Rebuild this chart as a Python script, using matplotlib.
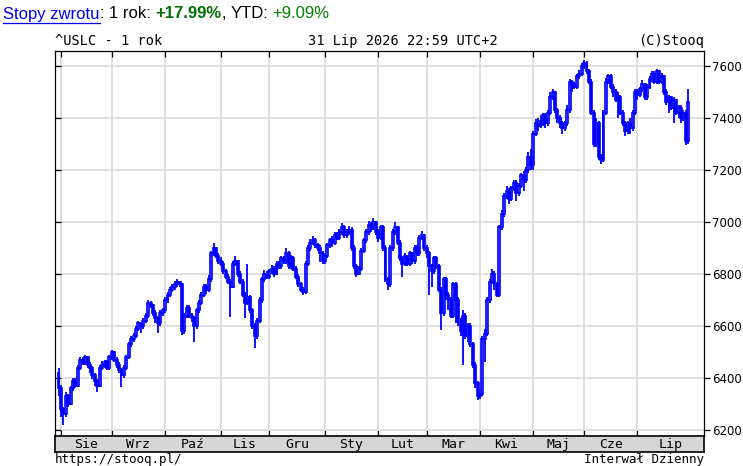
import numpy as np
import pandas as pd
import matplotlib
matplotlib.use('Agg')
import matplotlib.pyplot as plt
from matplotlib.lines import Line2D

W, H = 743, 466

# daily candles, grouped roughly by month
first_open = 6420
close_aug = [6360, 6280, 6260, 6330, 6300, 6360, 6390, 6370, 6440, 6470, 6460, 6480, 6450, 6440, 6410, 6390, 6370, 6440, 6450, 6460, 6440]
high_aug = [6440, 6375, 6290, 6345, 6340, 6370, 6400, 6400, 6450, 6480, 6480, 6490, 6485, 6460, 6445, 6420, 6395, 6450, 6465, 6470, 6470]
low_aug = [6330, 6250, 6220, 6250, 6290, 6295, 6350, 6360, 6365, 6430, 6450, 6450, 6440, 6420, 6395, 6370, 6345, 6365, 6430, 6440, 6430]

close_sep = [6480, 6500, 6470, 6450, 6430, 6410, 6440, 6480, 6530, 6550, 6560, 6590, 6610, 6600, 6620, 6640, 6690, 6680, 6650, 6630, 6610, 6650]
high_sep = [6490, 6508, 6505, 6480, 6460, 6440, 6450, 6490, 6540, 6560, 6575, 6600, 6620, 6615, 6630, 6650, 6700, 6695, 6685, 6660, 6640, 6660]
low_sep = [6430, 6470, 6460, 6440, 6420, 6365, 6400, 6430, 6475, 6520, 6540, 6555, 6580, 6573, 6590, 6610, 6630, 6670, 6640, 6610, 6573, 6600]

close_oct = [6660, 6700, 6720, 6740, 6750, 6760, 6770, 6760, 6580, 6640, 6670, 6640, 6630, 6600, 6660, 6690, 6720, 6750, 6740, 6780, 6880, 6900, 6870]
high_oct = [6670, 6710, 6730, 6750, 6760, 6775, 6780, 6775, 6765, 6650, 6680, 6680, 6650, 6640, 6670, 6700, 6730, 6760, 6760, 6795, 6890, 6920, 6905]
low_oct = [6640, 6650, 6690, 6710, 6730, 6740, 6750, 6750, 6565, 6570, 6630, 6630, 6615, 6540, 6590, 6650, 6680, 6710, 6725, 6730, 6770, 6870, 6860]

close_nov = [6850, 6840, 6810, 6790, 6770, 6750, 6840, 6850, 6800, 6770, 6720, 6690, 6710, 6660, 6600, 6560, 6620, 6700, 6780, 6800]
high_nov = [6880, 6865, 6850, 6820, 6800, 6780, 6850, 6870, 6855, 6810, 6780, 6730, 6840, 6720, 6670, 6610, 6630, 6710, 6790, 6815]
low_nov = [6840, 6830, 6800, 6780, 6760, 6635, 6745, 6830, 6790, 6760, 6710, 6630, 6680, 6650, 6590, 6515, 6550, 6610, 6690, 6770]

close_dec = [6790, 6810, 6820, 6800, 6840, 6830, 6860, 6850, 6880, 6830, 6860, 6820, 6790, 6760, 6740, 6730, 6840, 6900, 6920, 6930, 6910, 6900, 6880]
high_dec = [6810, 6820, 6835, 6830, 6850, 6850, 6870, 6870, 6900, 6890, 6875, 6870, 6830, 6800, 6770, 6750, 6850, 6910, 6935, 6945, 6940, 6920, 6910]
low_dec = [6780, 6780, 6800, 6790, 6795, 6820, 6820, 6840, 6840, 6820, 6820, 6810, 6780, 6750, 6730, 6720, 6725, 6830, 6890, 6910, 6900, 6890, 6845]

close_jan = [6850, 6870, 6910, 6930, 6920, 6950, 6940, 6960, 6980, 6950, 6960, 6970, 6900, 6830, 6800, 6820, 6890, 6930, 6960, 6990, 6980, 7000]
high_jan = [6890, 6880, 6920, 6940, 6945, 6960, 6960, 6975, 6995, 6990, 6975, 6985, 6980, 6910, 6840, 6830, 6900, 6940, 6975, 7005, 7000, 7015]
low_jan = [6840, 6840, 6860, 6900, 6905, 6910, 6930, 6930, 6950, 6940, 6940, 6950, 6890, 6820, 6790, 6795, 6810, 6880, 6920, 6950, 6960, 6970]

close_feb = [6960, 6940, 6980, 6900, 6780, 6760, 6900, 6960, 6980, 6920, 6860, 6840, 6870, 6840, 6880, 6850, 6900, 6880, 6940, 6950]
high_feb = [7005, 6975, 6990, 6990, 6910, 6790, 6910, 6975, 7000, 6985, 6930, 6870, 6880, 6875, 6890, 6885, 6910, 6910, 6950, 6965]
low_feb = [6950, 6925, 6930, 6890, 6770, 6740, 6750, 6890, 6950, 6910, 6850, 6790, 6830, 6830, 6830, 6840, 6840, 6870, 6870, 6930]

close_mar = [6900, 6880, 6830, 6810, 6860, 6830, 6740, 6650, 6780, 6720, 6700, 6640, 6760, 6700, 6620, 6580, 6640, 6560, 6600, 6530, 6450, 6380]
high_mar = [6955, 6910, 6890, 6840, 6870, 6870, 6840, 6750, 6790, 6790, 6730, 6710, 6770, 6770, 6710, 6630, 6660, 6650, 6610, 6610, 6540, 6460]
low_mar = [6890, 6860, 6720, 6750, 6800, 6820, 6730, 6585, 6640, 6700, 6660, 6630, 6630, 6610, 6600, 6560, 6450, 6550, 6540, 6520, 6440, 6360]

close_apr = [6330, 6340, 6550, 6570, 6700, 6770, 6800, 6760, 6720, 6980, 7030, 7100, 7120, 7090, 7130, 7150, 7110, 7140, 7180, 7160, 7200, 7250]
high_apr = [6390, 6350, 6560, 6590, 6710, 6780, 6820, 6810, 6770, 6990, 7045, 7110, 7140, 7130, 7140, 7160, 7160, 7150, 7190, 7195, 7210, 7270]
low_apr = [6315, 6320, 6330, 6460, 6560, 6690, 6760, 6740, 6710, 6710, 6970, 7020, 7090, 7070, 7080, 7120, 7080, 7100, 7130, 7120, 7150, 7190]

close_may = [7220, 7340, 7380, 7370, 7390, 7410, 7380, 7420, 7480, 7500, 7430, 7400, 7380, 7360, 7380, 7430, 7540, 7530, 7520, 7560, 7570]
high_may = [7280, 7350, 7395, 7400, 7410, 7420, 7420, 7430, 7500, 7510, 7505, 7440, 7410, 7390, 7390, 7450, 7550, 7545, 7540, 7570, 7585]
low_may = [7200, 7200, 7330, 7350, 7360, 7370, 7360, 7370, 7410, 7470, 7420, 7380, 7360, 7340, 7350, 7370, 7420, 7500, 7510, 7510, 7550]

close_jun = [7600, 7610, 7580, 7540, 7420, 7300, 7380, 7250, 7240, 7420, 7540, 7560, 7520, 7500, 7470, 7480, 7420, 7380, 7350, 7380, 7360, 7420]
high_jun = [7610, 7625, 7620, 7590, 7550, 7430, 7400, 7390, 7260, 7430, 7555, 7570, 7570, 7530, 7510, 7500, 7490, 7430, 7390, 7390, 7400, 7430]
low_jun = [7560, 7590, 7570, 7530, 7410, 7290, 7290, 7240, 7225, 7230, 7410, 7530, 7510, 7480, 7460, 7400, 7410, 7370, 7330, 7340, 7340, 7350]

close_jul = [7500, 7490, 7510, 7530, 7480, 7520, 7550, 7570, 7540, 7580, 7540, 7560, 7500, 7460, 7480, 7440, 7470, 7420, 7440, 7400, 7420, 7310, 7460]
high_jul = [7510, 7510, 7520, 7545, 7535, 7530, 7560, 7580, 7580, 7590, 7585, 7575, 7565, 7510, 7490, 7485, 7480, 7475, 7450, 7450, 7430, 7430, 7510]
low_jul = [7410, 7470, 7480, 7500, 7470, 7470, 7510, 7540, 7530, 7530, 7530, 7530, 7490, 7450, 7420, 7430, 7380, 7410, 7400, 7380, 7390, 7295, 7300]

month_names = ['Sie', 'Wrz', 'Paź', 'Lis', 'Gru', 'Sty', 'Lut', 'Mar', 'Kwi', 'Maj', 'Cze', 'Lip']
y_ticks = [6200, 6400, 6600, 6800, 7000, 7200, 7400, 7600]

closes = np.array(close_aug + close_sep + close_oct + close_nov + close_dec + close_jan
                  + close_feb + close_mar + close_apr + close_may + close_jun + close_jul, float)
highs = np.array(high_aug + high_sep + high_oct + high_nov + high_dec + high_jan
                 + high_feb + high_mar + high_apr + high_may + high_jun + high_jul, float)
lows = np.array(low_aug + low_sep + low_oct + low_nov + low_dec + low_jan
                + low_feb + low_mar + low_apr + low_may + low_jun + low_jul, float)
opens = np.concatenate([[first_open], closes[:-1]])

n = len(closes)
dates = pd.bdate_range('2025-07-31', periods=n)
xs = np.arange(n)
month_starts = [i for i in range(1, n) if dates[i].month != dates[i - 1].month]

BLUE = '#0000ff'
GRID = '#dcdcdc'


def px(x, y):
    return x / W, 1 - y / H


fig = plt.figure(figsize=(W / 100, H / 100), dpi=100)
fig.patch.set_facecolor('white')

# main price panel
L, R, T, B = 55, 704, 51, 436
ax = fig.add_axes([L / W, 1 - B / H, (R - L) / W, (B - T) / H])
ax.set_xlim(-1.45, 266.5)
ax.set_ylim(6177, 7658)
for s in ax.spines.values():
    s.set_color('black')
    s.set_linewidth(0.9)

ax.set_yticks(y_ticks)
ax.set_xticks(month_starts)
ax.grid(True, color=GRID, linewidth=1.3)
ax.set_axisbelow(True)
ax.tick_params(axis='x', which='both', top=True, bottom=True, direction='in',
               length=4, width=0.9, labelbottom=False)
ax.tick_params(axis='y', left=True, right=False, direction='in', length=4,
               width=0.9, labelleft=False)

up = closes >= opens
ax.vlines(xs, lows, highs, color=BLUE, linewidth=1.3, zorder=2)
ax.bar(xs[up], (closes - opens)[up], bottom=opens[up], width=0.8,
       facecolor='#b8b8ff', edgecolor=BLUE, linewidth=1.2, zorder=3)
ax.bar(xs[~up], (opens - closes)[~up], bottom=closes[~up], width=0.8,
       facecolor=BLUE, edgecolor=BLUE, linewidth=1.2, zorder=3)

# right-hand labels with outward ticks
ax_r = ax.twinx()
ax_r.set_ylim(ax.get_ylim())
ax_r.set_yticks(y_ticks)
ax_r.tick_params(axis='y', direction='out', length=4, width=0.9, pad=1.5,
                 labelsize=8.5)
for lab in ax_r.get_yticklabels():
    lab.set_family('DejaVu Sans')
ax_r.set_frame_on(False)

# month strip under the chart
ax_m = fig.add_axes([L / W, 1 - 452 / H, (R - L) / W, 16 / H])
ax_m.set_xlim(ax.get_xlim())
ax_m.set_ylim(0, 1)
ax_m.set_facecolor('#d6d6d6')
ax_m.set_xticks([])
ax_m.set_yticks([])
for s in ax_m.spines.values():
    s.set_color('black')
    s.set_linewidth(1.2)
edges = month_starts + [ax.get_xlim()[1]]
for name, a, b in zip(month_names, edges[:-1], edges[1:]):
    ax_m.text((a + b) / 2, 0.45, name, ha='center', va='center',
              family='DejaVu Sans Mono', fontsize=9.5)

mono = dict(family='DejaVu Sans Mono', fontsize=9.8, color='black')
fig.text(*px(55, 41), '^USLC - 1 rok', ha='left', va='center', **mono)
fig.text(*px(308, 41), '31 Lip 2026 22:59 UTC+2', ha='left', va='center', **mono)
fig.text(*px(704, 41), '(C)Stooq', ha='right', va='center', **mono)
foot = dict(family='DejaVu Sans Mono', fontsize=9, color='black')
fig.text(*px(55, 465.5), 'https://stooq.pl/', ha='left', va='bottom', **foot)
fig.text(*px(704, 465.5), 'Interwał Dzienny', ha='right', va='bottom', **foot)

# header line with mixed styles
renderer = fig.canvas.get_renderer()
hs = 12
space = 0.278 * hs * 100 / 72
parts = [
    ('Stopy zwrotu', dict(color='#0000ee'), 0),
    (':', dict(color='black'), 0),
    ('1 rok:', dict(color='black'), space),
    ('+17.99%', dict(color='#007000', weight='bold'), space),
    (',', dict(color='black'), 0),
    ('YTD:', dict(color='black'), space),
    ('+9.09%', dict(color='#007f00'), space),
]
x = 3
for txt, kw, gap in parts:
    x += gap
    t = fig.text(*px(x, 14), txt, ha='left', va='center', family='Liberation Sans',
                 fontsize=hs, **kw)
    w = t.get_window_extent(renderer=renderer).width
    if txt == 'Stopy zwrotu':
        fig.add_artist(Line2D([x / W, (x + w) / W], [1 - 23 / H] * 2,
                              color='#0000ee', linewidth=0.9))
    x += w

fig.savefig('out.png', dpi=100)
